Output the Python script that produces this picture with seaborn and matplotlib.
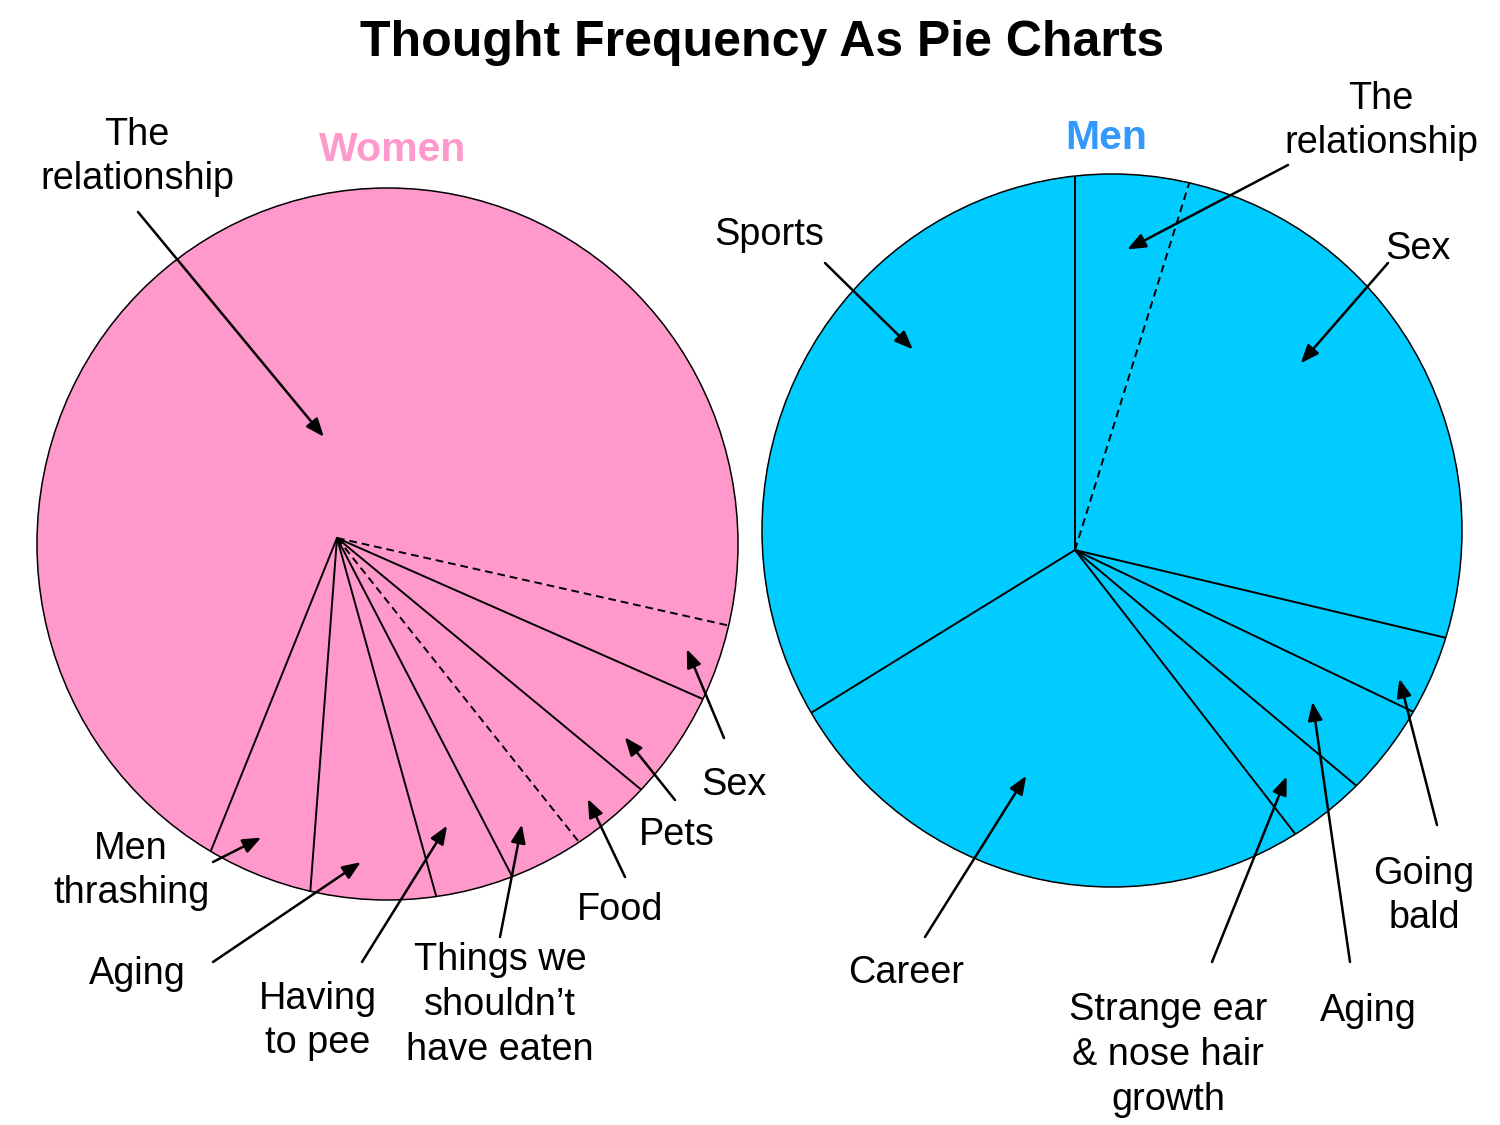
import numpy as np
import matplotlib
matplotlib.use("Agg")
import matplotlib.pyplot as plt
from matplotlib.patches import Ellipse
import seaborn as sns

# ---------------- data ----------------
women_labels = ["Sex", "Pets", "Food", "Things we\nshouldn’t\nhave eaten",
                "Having\nto pee", "Aging", "Men\nthrashing", "The\nrelationship"]
women_values = [3.1, 4.4, 3.3, 3.1, 3.3, 5.5, 4.9, 72.4]
women_dashed = [True, False, False, True, False, False, False, False]

men_labels = ["The\nrelationship", "Sex", "Going\nbald", "Aging",
              "Strange ear\n& nose hair\ngrowth", "Career", "Sports"]
men_values = [4.8, 23.9, 3.4, 4.0, 3.4, 26.7, 33.8]
men_dashed = [False, True, False, False, False, False, False]

title = "Thought Frequency As Pie Charts"

# ---------------- layout ----------------
W, H = 1500, 1125


def P(x, y):
    return (x, H - y)


women_layout = dict(
    name="Women", name_color="#FF99CC", name_pos=P(393, 150),
    hub=P(337, 538), center=P(387.5, 544), width=701, height=712,
    start=-12.6, color="#FF99CC",
    text_pos=[P(734, 785), P(677, 835), P(620, 910), P(500, 1005),
              P(318, 1021), P(137, 974), P(131, 871), P(137, 157)],
    tails=[P(724, 738), P(675, 800), P(625, 877), P(500, 937),
           P(362, 962), P(213, 962), P(213, 862), P(138, 212)],
    tips=[(0.45, 367), (0.69, 350), (0.55, 362), (0.51, 341),
          (0.54, 308), (0.57, 325), (0.56, 309), (0.578, 102)],
)

men_layout = dict(
    name="Men", name_color="#3399FF", name_pos=P(1106, 138),
    hub=P(1075, 550), center=P(1112, 530.5), width=700, height=713,
    start=90, color="#00CCFF",
    text_pos=[P(1381, 121), P(1418, 249), P(1424, 896), P(1368, 1011),
              P(1168, 1055), P(906, 973), P(769, 235)],
    tails=[P(1288, 165), P(1388, 263), P(1437, 825), P(1350, 962),
           P(1212, 962), P(925, 937), P(825, 263)],
    tips=[(0.57, 305), (0.385, 293), (0.68, 349), (0.49, 282),
          (0.57, 310), (0.52, 231), (0.68, 258)],
)

# ---------------- style ----------------
sns.set_theme(style="white")
plt.rcParams["font.family"] = ["Liberation Sans", "DejaVu Sans"]

LABEL_SIZE = 27.3

fig = plt.figure(figsize=(15, 11.25), dpi=100)
ax = fig.add_axes([0, 0, 1, 1])


def draw_pie(labels, values, dashed, lay):
    hx, hy = lay["hub"]
    outline = Ellipse(lay["center"], lay["width"], lay["height"],
                      facecolor="none", edgecolor="black", lw=1.1, zorder=3)
    ax.add_patch(outline)
    wedges, _ = ax.pie(values, center=lay["hub"], radius=900,
                       startangle=lay["start"], counterclock=False,
                       colors=[lay["color"]] * len(values),
                       wedgeprops=dict(linewidth=0, edgecolor="none"))
    for w in wedges:
        w.set_clip_on(True)
        w.set_clip_path(outline)
        w.set_zorder(1)

    total = float(np.sum(values))
    cum = np.concatenate([[0.0], np.cumsum(values)[:-1]])
    angles = lay["start"] - 360.0 * cum / total
    for ang, dsh in zip(angles, dashed):
        t = np.deg2rad(ang)
        ln, = ax.plot([hx, hx + 900 * np.cos(t)], [hy, hy + 900 * np.sin(t)],
                      color="black", lw=1.4,
                      ls=(0, (4, 2.5)) if dsh else "-", zorder=2)
        ln.set_clip_on(True)
        ln.set_clip_path(outline)

    for i, lab in enumerate(labels):
        frac, dist = lay["tips"][i]
        t = np.deg2rad(angles[i] - frac * 360.0 * values[i] / total)
        tip = (hx + dist * np.cos(t), hy + dist * np.sin(t))
        ax.annotate("", xy=tip, xytext=lay["tails"][i],
                    arrowprops=dict(arrowstyle="-|>,head_length=0.55,head_width=0.22",
                                    color="black", lw=1.8, shrinkA=0, shrinkB=0,
                                    mutation_scale=20),
                    zorder=5)
        tx, ty = lay["text_pos"][i]
        ax.text(tx, ty, lab, ha="center", va="center", fontsize=LABEL_SIZE,
                linespacing=1.32, color="black", zorder=6)

    nx, ny = lay["name_pos"]
    ax.text(nx, ny, lay["name"], ha="center", va="center", fontsize=29.5,
            fontweight="bold", color=lay["name_color"], zorder=6)


draw_pie(women_labels, women_values, women_dashed, women_layout)
draw_pie(men_labels, men_values, men_dashed, men_layout)

ax.text(762, H - 43, title, ha="center", va="center", fontsize=36,
        fontweight="bold", color="black")

ax.set_xlim(0, W)
ax.set_ylim(0, H)
ax.set_aspect("equal")
ax.axis("off")

fig.savefig("out.png", dpi=100, facecolor="white")
